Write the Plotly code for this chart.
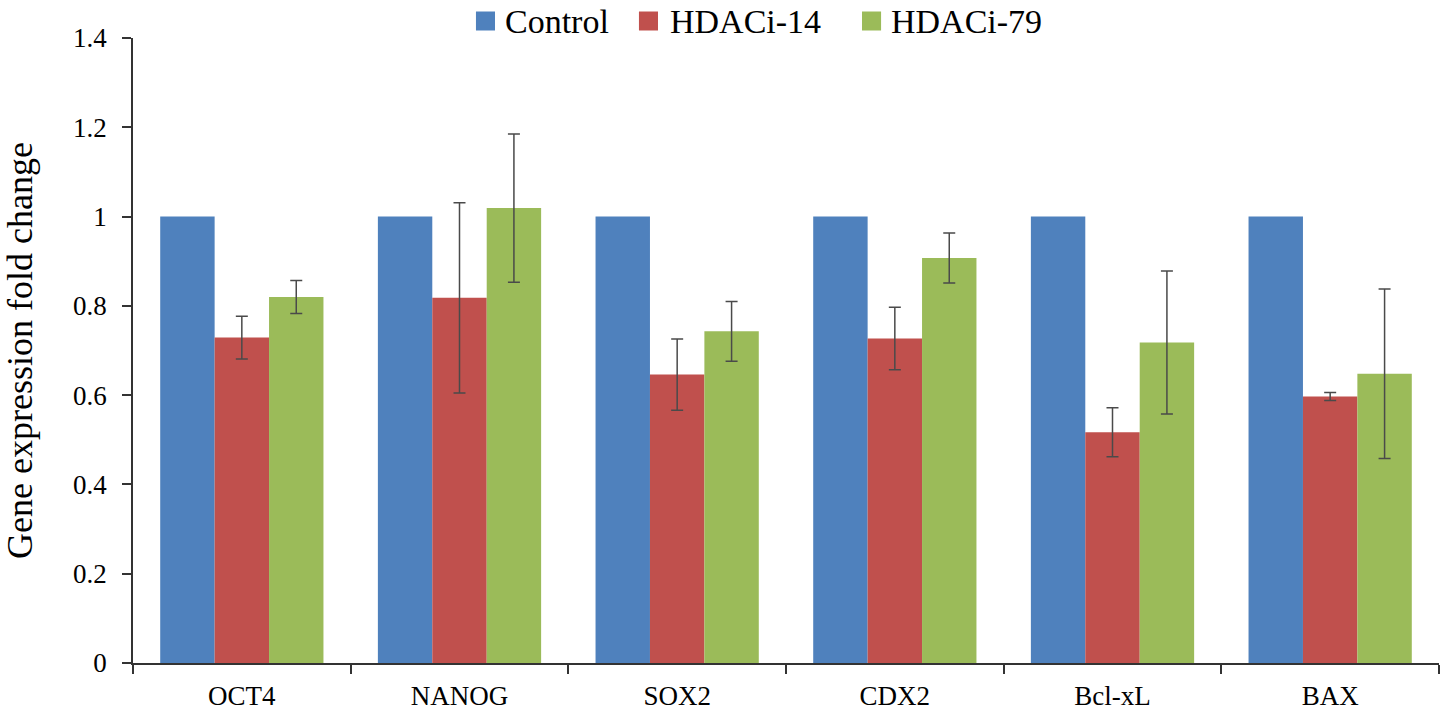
import plotly.graph_objects as go

categories = ["OCT4", "NANOG", "SOX2", "CDX2", "Bcl-xL", "BAX"]
control = [1.0, 1.0, 1.0, 1.0, 1.0, 1.0]
hdaci14 = [0.729, 0.818, 0.646, 0.727, 0.517, 0.597]
hdaci14_err = [0.048, 0.213, 0.080, 0.070, 0.055, 0.009]
hdaci79 = [0.820, 1.019, 0.743, 0.907, 0.718, 0.648]
hdaci79_err = [0.037, 0.166, 0.067, 0.056, 0.160, 0.190]
series_names = ["Control", "HDACi-14", "HDACi-79"]
series_colors = ["#4F81BD", "#C0504D", "#9BBB59"]
y_ticks = [0, 0.2, 0.4, 0.6, 0.8, 1.0, 1.2, 1.4]
y_tick_text = ["0", "0.2", "0.4", "0.6", "0.8", "1", "1.2", "1.4"]

FONT = "Liberation Serif"
err_style = dict(type="data", visible=True, color="#4a4a4a", thickness=1.5, width=6)

fig = go.Figure()
fig.add_trace(go.Bar(name=series_names[0], x=categories, y=control,
                     marker=dict(color=series_colors[0], line=dict(width=0))))
fig.add_trace(go.Bar(name=series_names[1], x=categories, y=hdaci14,
                     marker=dict(color=series_colors[1], line=dict(width=0)),
                     error_y=dict(array=hdaci14_err, **err_style)))
fig.add_trace(go.Bar(name=series_names[2], x=categories, y=hdaci79,
                     marker=dict(color=series_colors[2], line=dict(width=0)),
                     error_y=dict(array=hdaci79_err, **err_style)))

# Legend row drawn as swatch shapes + text annotations (paper coordinates)
swatch_x0 = [0.2626, 0.3874, 0.5582]
swatch_w = 0.0146
label_x = [0.2833, 0.4096, 0.5789]
for name, color, sx, lx in zip(series_names, series_colors, swatch_x0, label_x):
    fig.add_shape(type="rect", xref="paper", yref="paper", x0=sx, x1=sx + swatch_w,
                  y0=1.012, y1=1.0424, fillcolor=color, line=dict(width=0), layer="above")
    fig.add_annotation(text=name, xref="paper", yref="paper", x=lx, y=1.0272,
                       xanchor="left", yanchor="middle", showarrow=False,
                       font=dict(size=34, family=FONT, color="black"))

fig.update_layout(
    width=1440, height=713,
    barmode="group", bargap=0.25, bargroupgap=0,
    plot_bgcolor="white", paper_bgcolor="white",
    margin=dict(l=133, r=1, t=38, b=50, autoexpand=False),
    font=dict(family=FONT, color="black", size=27),
    showlegend=False,
)
fig.update_xaxes(
    type="category", tickson="boundaries", ticks="outside", ticklen=9,
    tickwidth=1.5, tickcolor="#333333", ticklabelstandoff=8,
    showline=True, linecolor="#333333", linewidth=1.5,
    showgrid=False, tickfont=dict(size=27, family=FONT, color="black"),
)
fig.update_yaxes(
    range=[0, 1.4], tickvals=y_ticks, ticktext=y_tick_text,
    ticks="outside", ticklen=9, tickwidth=1.5, tickcolor="#333333", ticklabelstandoff=10,
    showline=True, linecolor="#333333", linewidth=1.5,
    showgrid=False, zeroline=False,
    tickfont=dict(size=27, family=FONT, color="black"),
    title=dict(text="Gene expression fold change", font=dict(size=36, family=FONT, color="black"), standoff=31),
)

fig.write_html("out.html", config={"displayModeBar": False},
               post_script="document.body.style.margin='0px';document.body.style.overflow='hidden';")
